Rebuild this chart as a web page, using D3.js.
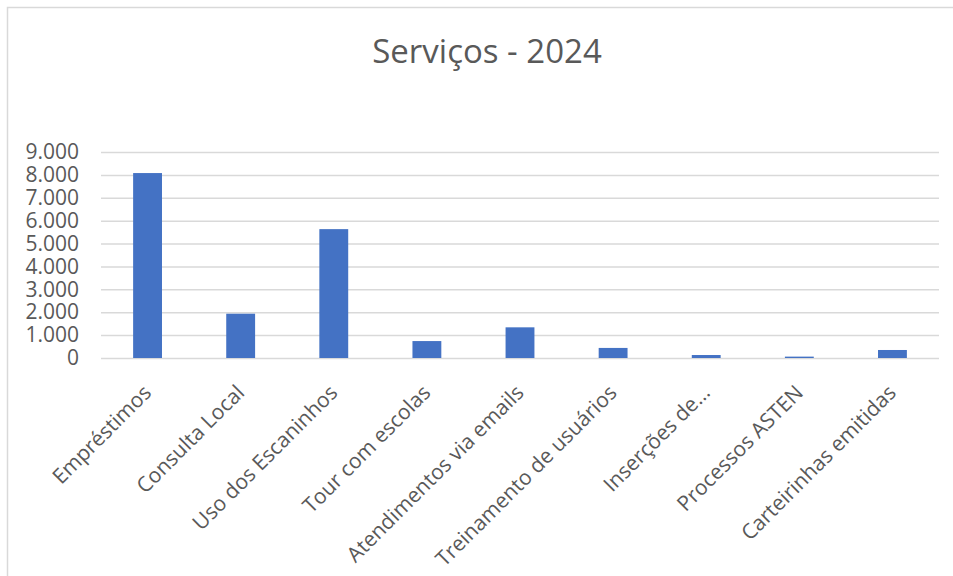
<!DOCTYPE html>
<html>
<head>
<meta charset="utf-8">
<script src="https://cdn.jsdelivr.net/npm/d3@7"></script>
<style>
  html, body { margin: 0; padding: 0; background: #fff; }
  svg { display: block; font-family: "Open Sans", sans-serif; }
</style>
</head>
<body>
<div id="chart"></div>
<script>
const categories = ["Empréstimos", "Consulta Local", "Uso dos Escaninhos", "Tour com escolas",
  "Atendimentos via emails", "Treinamento de usuários", "Inserções de…", "Processos ASTEN",
  "Carteirinhas emitidas"];
const values = [8080, 1935, 5630, 740, 1340, 440, 130, 60, 350];
const yTicks = [0, 1000, 2000, 3000, 4000, 5000, 6000, 7000, 8000, 9000];
const title = "Serviços - 2024";

const W = 953, H = 576;
const margin = { top: 152, right: 14, bottom: 218, left: 101 };
const w = W - margin.left - margin.right;
const h = H - margin.top - margin.bottom;

const svg = d3.select("#chart").append("svg")
  .attr("width", W).attr("height", H);

/* Chart frame */
svg.append("rect").attr("x", 7.5).attr("y", 7.5).attr("width", W).attr("height", H + 20)
  .attr("fill", "none").attr("stroke", "#d9d9d9").attr("stroke-width", 1.5);

svg.append("text").attr("x", 487).attr("y", 63).attr("text-anchor", "middle")
  .style("font-size", "33px").style("fill", "#595959")
  .text(title);

const g = svg.append("g").attr("transform", `translate(${margin.left},${margin.top})`);

const x = d3.scaleBand().domain(categories).range([0, w]).paddingInner(0.69).paddingOuter(0.345);
const y = d3.scaleLinear().domain([0, 9000]).range([h, 0]);

const fmt = d3.formatLocale({ decimal: ",", thousands: ".", grouping: [3], currency: ["R$", ""] }).format(",d");

/* Gridlines + y labels */
const yAxis = g.append("g")
  .call(d3.axisLeft(y).tickValues(yTicks).tickSize(-w).tickPadding(22).tickFormat(fmt));
yAxis.select(".domain").remove();
yAxis.selectAll("line").attr("stroke", "#d9d9d9").attr("stroke-width", 1.5);
yAxis.selectAll("text").style("font-size", "21px").style("fill", "#595959")
  .style("font-family", "'Open Sans', sans-serif");

/* Bars */
g.selectAll(".bar").data(values).enter().append("rect").attr("class", "bar")
  .attr("x", (d, i) => x(categories[i])).attr("width", x.bandwidth())
  .attr("y", d => y(d)).attr("height", d => h - y(d))
  .attr("fill", "#4472c4");

/* Category labels, rotated */
g.selectAll(".xlbl").data(categories).enter().append("text").attr("class", "xlbl")
  .attr("transform", d => `translate(${x(d) + x.bandwidth() / 2 + 5},${h + 36}) rotate(-45)`)
  .attr("text-anchor", "end")
  .style("font-size", "21px").style("fill", "#595959")
  .text(d => d);
</script>
</body>
</html>
